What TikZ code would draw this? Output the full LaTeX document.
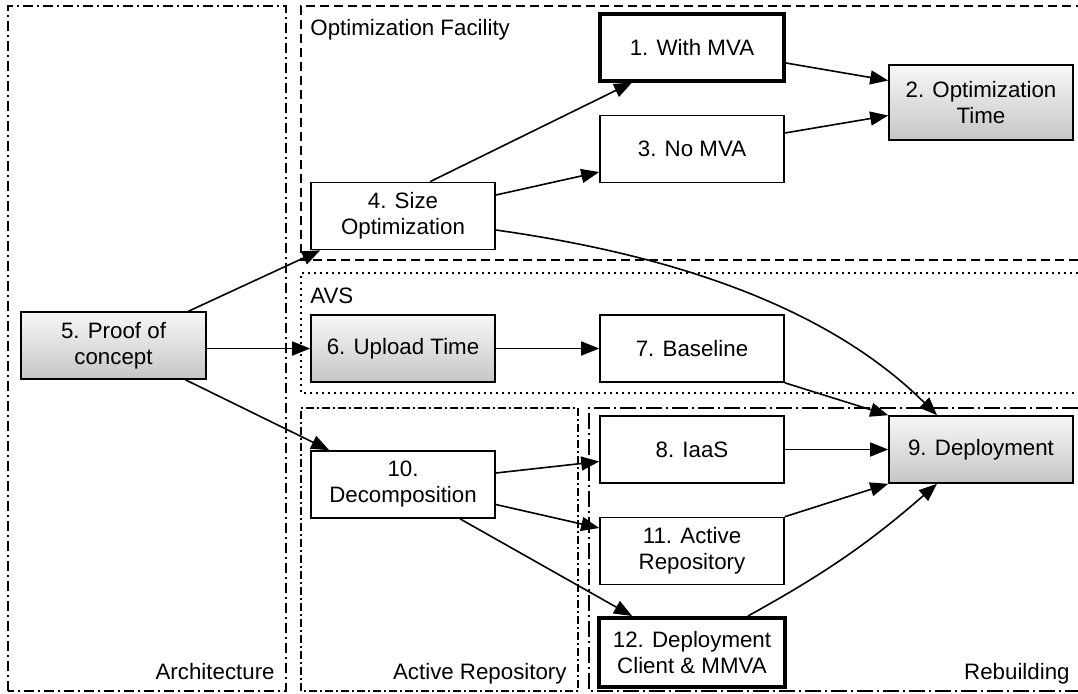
\documentclass[tikz,border=0pt]{standalone}
\usepackage{fontspec}
\setmainfont{Liberation Sans}
\usetikzlibrary{arrows.meta,calc}
\begin{document}
\begin{tikzpicture}[x=0.5pt,y=-0.5pt,
  every node/.style={font=\fontsize{11.15pt}{13pt}\selectfont},
  box/.style={draw, line width=0.8pt, fill=white, align=center, inner sep=0pt, minimum width=92pt, minimum height=33.5pt},
  gbox/.style={box, top color=gray!6, bottom color=gray!45},
  tbox/.style={box, line width=2pt},
  conn/.style={line width=0.8pt, -{Triangle[length=9pt,width=7pt]}},
  frame/.style={line width=0.8pt},
  archline/.style={frame, dash pattern=on 5pt off 2pt on 1pt off 2pt},
  optline/.style={frame, dash pattern=on 4.5pt off 2.5pt},
  avsline/.style={frame, dash pattern=on 1pt off 2pt},
  arline/.style={frame, dash pattern=on 4pt off 1.5pt on 1pt off 1.5pt},
  rebline/.style={frame, dash pattern=on 8pt off 2pt on 1pt off 2pt},
  flabel/.style={inner sep=0pt}
]
\useasboundingbox (0,0) rectangle (1078,693);
% frames
\draw[archline] (8,691) -- (8,6) -- (286,6) -- (286,691) -- cycle;
\draw[optline] (1078,260) -- (301,260) -- (301,6) -- (1078,6);
\draw[avsline] (1078,273) -- (301,273) -- (301,393) -- (1078,393);
\draw[arline] (301,691) -- (301,408) -- (578,408) -- (578,691) -- cycle;
\draw[rebline] (1078,408) -- (589,408) -- (589,691) -- (1078,691);
% frame labels
\node[flabel, anchor=base west] (lopt) at (310,35) {Optimization Facility};
\node[flabel, anchor=base west] (lavs) at (310,303) {AVS};
\node[flabel, anchor=base east] (larch) at (275,679) {Architecture};
\node[flabel, anchor=base east] (lar) at (567,679) {Active Repository};
\node[flabel, anchor=base east] (lreb) at (1070,679) {Rebuilding};
% nodes
\node[tbox] (n1) at (692,47) {1. With MVA};
\node[gbox, minimum height=37.5pt] (n2) at (981,102.5) {2. Optimization\\Time};
\node[box] (n3) at (692,149) {3. No MVA};
\node[box] (n4) at (403,216) {4. Size\\Optimization};
\node[gbox, minimum width=92.5pt] (n5) at (113.5,345.5) {5. Proof of\\concept};
\node[gbox] (n6) at (403,348.5) {6. Upload Time};
\node[box] (n7) at (692,348.5) {7. Baseline};
\node[box] (n8) at (692,449.5) {8. IaaS};
\node[gbox] (n9) at (981,449.5) {9. Deployment};
\node[box] (n10) at (403,484.5) {10.\\Decomposition};
\node[box] (n11) at (692,551) {11. Active\\Repository};
\node[tbox, minimum width=93pt, minimum height=34.5pt] (n12) at (692,652.5) {12. Deployment\\Client \& MMVA};
% connectors
\draw[conn] ($(n4.north)+(27,0)$) -- ($(n1.south)+(-60,0)$);
\draw[conn] ($(n4.east)+(0,-21)$) -- ($(n3.west)+(0,23)$);
\draw[conn] ($(n1.east)+(0,16)$) -- ($(n2.west)+(0,-22)$);
\draw[conn] ($(n3.east)+(0,-16)$) -- ($(n2.west)+(0,13)$);
\draw[conn] ($(n4.east)+(0,14)$) .. controls (695,258) and (837,316) .. ($(n9.north)+(-44,0)$);
\draw[conn] ($(n5.north)+(75,0)$) -- ($(n4.south west)+(10,0)$);
\draw[conn] (n5.east |- n6.west) -- (n6.west);
\draw[conn] ($(n5.south)+(72,0)$) -- ($(n10.north west)+(19,0)$);
\draw[conn] (n6.east) -- (n7.west);
\draw[conn] (n7.south east) -- (n9.north west);
\draw[conn] ($(n10.east)+(0,-11.5)$) -- ($(n8.west)+(0,12)$);
\draw[conn] ($(n10.east)+(0,20)$) -- ($(n11.west)+(0,-23)$);
\draw[conn] ($(n10.south)+(57,0)$) -- ($(n12.north)+(-60,0)$);
\draw[conn] (n8.east) -- (n9.west);
\draw[conn] (n11.north east) -- (n9.south west);
\draw[conn] ($(n12.north)+(56,0)$) to[bend right=6] ($(n9.south)+(-44,0)$);
\end{tikzpicture}
\end{document}
